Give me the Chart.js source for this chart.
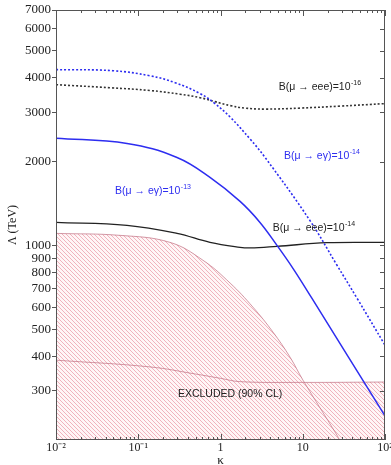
<!DOCTYPE html>
<html><head><meta charset="utf-8">
<script src="https://cdn.jsdelivr.net/npm/chart.js@4"></script>
<style>html,body{margin:0;padding:0;background:#fff;}#wrap{width:391px;height:465px;}</style>
</head><body><div id="wrap"><canvas id="c" width="391" height="465"></canvas></div>
<script>
// ---- data ----
const kappaEgamma14 = [0.01, 0.049, 0.139, 0.28, 0.564, 0.857, 1.31, 2.29, 3.49, 12.2, 26.1, 45.7, 100];
const lambdaEgamma14 = [4276, 4238, 4063, 3838, 3509, 3228, 2888, 2408, 2067, 1229, 848, 646, 438];

const kappaEgamma13 = [0.01, 0.073, 0.296, 0.745, 1.73, 3.02, 4.86, 7.6, 12.9, 100];
const lambdaEgamma13 = [2425, 2321, 2067, 1754, 1438, 1209, 1000, 827, 646, 244];

const kappaEee16 = [0.01, 0.0454, 0.139, 0.322, 0.564, 0.857, 1.31, 1.99, 3.49, 9.3, 28.4, 100];
const lambdaEee16 = [3775, 3681, 3598, 3490, 3391, 3281, 3176, 3111, 3085, 3111, 3162, 3228];

const kappaEee14 = [0.01, 0.073, 0.296, 0.745, 1.73, 2.29, 4.86, 19.7, 100];
const lambdaEee14 = [1209, 1180, 1104, 1025, 984, 979, 992, 1022, 1025];

const kappaExclEgamma = [0.01, 0.06, 0.243, 0.612, 1.31, 2.48, 4.35, 7.0, 10.07, 26.1, 28.0];
const lambdaExclEgamma = [1104, 1086, 1025, 884, 732, 600, 488, 397, 328, 208, 200];

const kappaExclEee = [0.01, 0.139, 0.5, 1.0, 1.73, 10, 100];
const lambdaExclEee = [387, 366, 345, 333, 324, 322, 323];

const xTickValues = [0.01, 0.1, 1, 10, 100];
const xTickLabels = ['10\u207B\u00B2', '10\u207B\u00B9', '1', '10', '10\u00B2'];
const yTickValues = [300, 400, 500, 600, 700, 800, 900, 1000, 2000, 3000, 4000, 5000, 6000, 7000];
const yTickLabels = ['300', '400', '500', '600', '700', '800', '900', '1000', '2000', '3000', '4000', '5000', '6000', '7000'];

const annotations = [
  {base: 'B(\u03BC \u2192 eee)=10', sup: '-16', k: 16.2, l: 3715, color: '#222'},
  {base: 'B(\u03BC \u2192 e\u03B3)=10', sup: '-14', k: 17.1, l: 2084, color: 'rgb(45,45,240)'},
  {base: 'B(\u03BC \u2192 e\u03B3)=10', sup: '-13', k: 0.151, l: 1561, color: 'rgb(45,45,240)'},
  {base: 'B(\u03BC \u2192 eee)=10', sup: '-14', k: 13.7, l: 1151, color: '#222'},
  {base: 'EXCLUDED (90% CL)', sup: '', k: 1.31, l: 292, color: '#222'}
];

const pts = (xs, ys) => xs.map((v, i) => ({x: v, y: ys[i]}));

const canvas = document.getElementById('c');
const cctx = canvas.getContext('2d');
function hatch() {
  const c = document.createElement('canvas'); c.width = 4; c.height = 4;
  const g = c.getContext('2d');
  g.fillStyle = 'rgb(255,246,247)'; g.fillRect(0, 0, 4, 4);
  g.strokeStyle = 'rgb(238,172,182)'; g.lineWidth = 0.9;
  g.beginPath();
  g.moveTo(0, 0); g.lineTo(4, 4);
  g.moveTo(-1, 3); g.lineTo(1, 5);
  g.moveTo(3, -1); g.lineTo(5, 1);
  g.stroke();
  return cctx.createPattern(c, 'repeat');
}
const pattern = hatch();

const BLUE = 'rgb(45,45,240)';
const xMinor = [];
[0.01, 0.1, 1, 10].forEach(d => { for (let m = 1; m <= 9; m++) xMinor.push(+(m * d).toPrecision(3)); });
xMinor.push(100);

const framePlugin = {
  id: 'framePlugin',
  afterDatasetsDraw(chart) {
    const {ctx, chartArea: a, scales: {x, y}} = chart;
    ctx.save();
    ctx.strokeStyle = '#555'; ctx.lineWidth = 1;
    ctx.strokeRect(a.left + 0.5, a.top + 0.5, a.right - a.left - 1, a.bottom - a.top - 1);
    ctx.beginPath();
    xMinor.forEach(v => {
      const px = Math.round(x.getPixelForValue(v)) + 0.5;
      const len = xTickValues.includes(v) ? 6 : 3;
      ctx.moveTo(px, a.bottom); ctx.lineTo(px, a.bottom - len);
      ctx.moveTo(px, a.top); ctx.lineTo(px, a.top + len);
    });
    yTickValues.forEach(v => {
      const py = Math.round(y.getPixelForValue(v)) + 0.5;
      ctx.moveTo(a.right, py); ctx.lineTo(a.right - 5, py);
    });
    ctx.stroke();
    // annotations
    ctx.textBaseline = 'middle';
    annotations.forEach(t => {
      const cx = x.getPixelForValue(t.k), cy = y.getPixelForValue(t.l);
      ctx.font = '10.5px "Liberation Sans", Arial, sans-serif';
      const wb = ctx.measureText(t.base).width;
      ctx.font = '7px "Liberation Sans", Arial, sans-serif';
      const ws = t.sup ? ctx.measureText(t.sup).width + 0.5 : 0;
      const x0 = cx - (wb + ws) / 2;
      ctx.fillStyle = t.color;
      ctx.font = '10.5px "Liberation Sans", Arial, sans-serif';
      ctx.textAlign = 'left';
      ctx.fillText(t.base, x0, cy);
      if (t.sup) {
        ctx.font = '7px "Liberation Sans", Arial, sans-serif';
        ctx.fillText(t.sup, x0 + wb + 0.5, cy - 4);
      }
    });
    ctx.restore();
  }
};

new Chart(canvas, {
  type: 'line',
  data: {
    datasets: [
      {data: pts(kappaEgamma14, lambdaEgamma14), borderColor: BLUE, borderWidth: 1.6, borderDash: [2, 2], fill: false},
      {data: pts(kappaEee16, lambdaEee16), borderColor: '#333', borderWidth: 1.6, borderDash: [2, 2], fill: false},
      {data: pts(kappaEgamma13, lambdaEgamma13), borderColor: BLUE, borderWidth: 1.5, fill: false},
      {data: pts(kappaEee14, lambdaEee14), borderColor: '#222', borderWidth: 1.3, fill: false},
      {data: pts(kappaExclEgamma, lambdaExclEgamma), borderColor: 'rgba(190,105,125,0.85)', borderWidth: 0.8, fill: 'start', backgroundColor: pattern, order: 10},
      {data: pts(kappaExclEee, lambdaExclEee), borderColor: 'rgba(190,105,125,0.85)', borderWidth: 0.8, fill: 'start', backgroundColor: pattern, order: 11}
    ]
  },
  options: {
    responsive: false, animation: false, devicePixelRatio: 1,
    layout: {padding: {top: 10, right: 6, left: 0, bottom: 0}},
    elements: {point: {radius: 0}, line: {tension: 0.4}},
    plugins: {legend: {display: false}, tooltip: {enabled: false}, filler: {drawTime: 'beforeDatasetsDraw'}},
    scales: {
      x: {
        type: 'logarithmic', min: 0.01, max: 100,
        afterBuildTicks: s => { s.ticks = xTickValues.map(v => ({value: v})); },
        afterFit: s => { s.height = 25; s.paddingLeft = 0; s.paddingRight = 0; },
        ticks: {callback: (v) => { const i = xTickValues.indexOf(v); return i >= 0 ? xTickLabels[i] : ''; },
                autoSkip: false, maxRotation: 0, padding: 1, color: '#222',
                font: {family: '"Liberation Serif", "Times New Roman", serif', size: 12}},
        grid: {display: false, drawTicks: false},
        border: {display: false},
        title: {display: true, text: '\u03BA', color: '#222', padding: {top: 0, bottom: -3},
                font: {family: '"Liberation Serif", "Times New Roman", serif', size: 13}}
      },
      y: {
        type: 'logarithmic', min: 200, max: 7000,
        afterBuildTicks: s => { s.ticks = yTickValues.map(v => ({value: v})); },
        afterFit: s => { s.width = 56; s.paddingTop = 0; s.paddingBottom = 0; },
        ticks: {callback: (v) => { const i = yTickValues.indexOf(v); return i >= 0 ? yTickLabels[i] : ''; },
                autoSkip: false, padding: 1, color: '#222',
                font: {family: '"Liberation Serif", "Times New Roman", serif', size: 13}},
        grid: {display: true, drawOnChartArea: false, drawTicks: true, tickLength: 4, color: '#555'},
        border: {display: false},
        title: {display: true, text: '\u039B (TeV)', color: '#222', padding: {top: 6, bottom: 0},
                font: {family: '"Liberation Serif", "Times New Roman", serif', size: 12}}
      }
    }
  },
  plugins: [framePlugin]
});
</script></body></html>
